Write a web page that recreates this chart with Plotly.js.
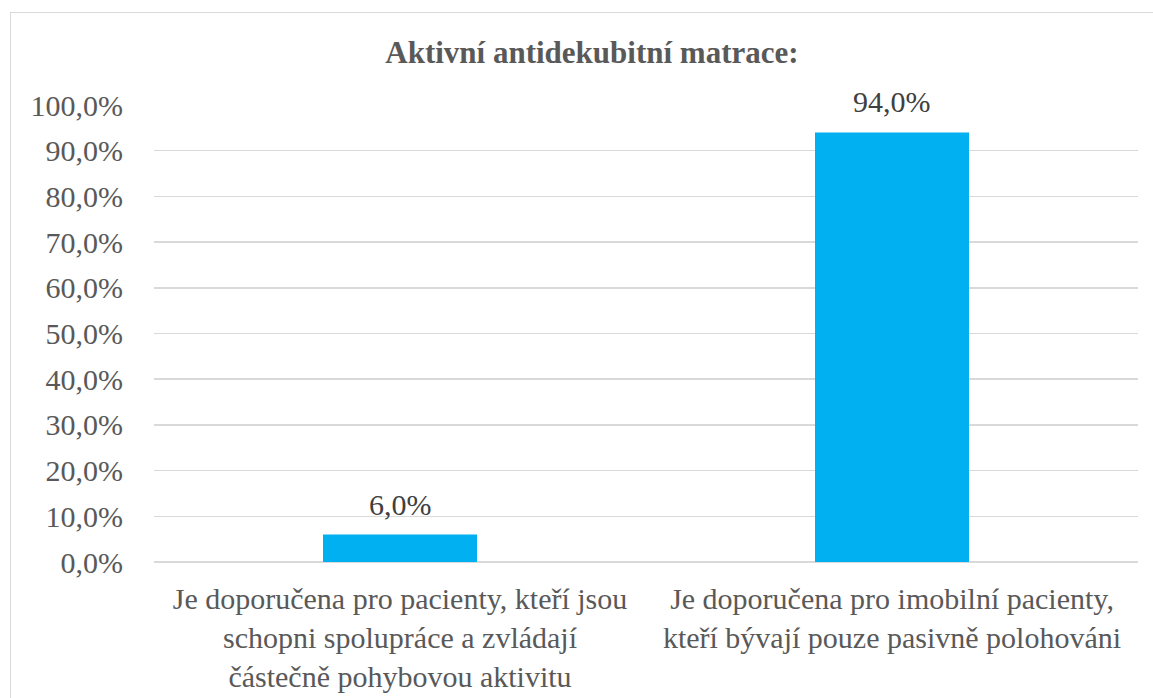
<!DOCTYPE html>
<html>
<head>
<meta charset="utf-8">
<script src="https://cdn.plot.ly/plotly-3.0.1.min.js"></script>
<style>
  html, body { margin: 0; padding: 0; background: #ffffff; }
  #wrap { position: relative; width: 1153px; height: 698px; overflow: hidden; }
  #frame { position: absolute; left: 10px; top: 12px; width: 1160px; height: 720px; border: 1.5px solid #d9d9d9; box-sizing: border-box; pointer-events: none; }
  #chart { position: absolute; left: 0; top: 0; width: 1153px; height: 698px; }
</style>
</head>
<body>
<div id="wrap">
  <div id="chart"></div>
  <div id="frame"></div>
</div>
<script>
const categories = [
  "Je doporučena pro pacienty, kteří jsou<br>schopni spolupráce a zvládají<br>částečně pohybovou aktivitu",
  "Je doporučena pro imobilní pacienty,<br>kteří bývají pouze pasivně polohováni"
];
const values = [6.0, 94.0];
const valueLabels = ["6,0%", "94,0%"];
const tickValues = [0, 10, 20, 30, 40, 50, 60, 70, 80, 90, 100];
const tickLabels = ["0,0%", "10,0%", "20,0%", "30,0%", "40,0%", "50,0%", "60,0%", "70,0%", "80,0%", "90,0%", "100,0%"];
const chartTitle = "Aktivní antidekubitní matrace:";

const serif = "Liberation Serif, Times New Roman, serif";

const trace = {
  type: "bar",
  x: categories,
  y: values,
  marker: { color: "#00B0F0" },
  width: 0.313,
  hoverinfo: "none"
};

const valueAnnotations = categories.map((c, i) => ({
  x: c,
  y: values[i],
  xref: "x",
  yref: "y",
  text: valueLabels[i],
  showarrow: false,
  xanchor: "center",
  yanchor: "bottom",
  yshift: 12,
  font: { family: serif, size: 30, color: "#404040" }
}));

const layout = {
  width: 1153,
  height: 698,
  margin: { l: 154, r: 15, t: 105, b: 136 },
  paper_bgcolor: "rgba(0,0,0,0)",
  plot_bgcolor: "rgba(0,0,0,0)",
  showlegend: false,
  font: { family: serif },
  title: {
    text: "<b>" + chartTitle + "</b>",
    font: { family: serif, size: 31, color: "#595959" },
    x: 0.5134,
    xref: "container",
    xanchor: "center",
    y: 0.926,
    yref: "container",
    yanchor: "middle"
  },
  annotations: valueAnnotations,
  xaxis: {
    type: "category",
    showgrid: false,
    showline: false,
    zeroline: false,
    ticks: "",
    ticklabelstandoff: 16,
    tickfont: { family: serif, size: 30, color: "#595959" },
    automargin: false
  },
  yaxis: {
    range: [0, 100],
    tickmode: "array",
    tickvals: tickValues,
    ticktext: tickLabels,
    showgrid: true,
    gridcolor: "#d9d9d9",
    gridwidth: 1.5,
    zeroline: true,
    zerolinecolor: "#d9d9d9",
    zerolinewidth: 1.5,
    showline: false,
    ticks: "",
    ticklabelstandoff: 30,
    tickfont: { family: serif, size: 30, color: "#595959" },
    automargin: false
  },
  bargap: 0.687
};

Plotly.newPlot("chart", [trace], layout, { displayModeBar: false, staticPlot: true });
</script>
</body>
</html>
